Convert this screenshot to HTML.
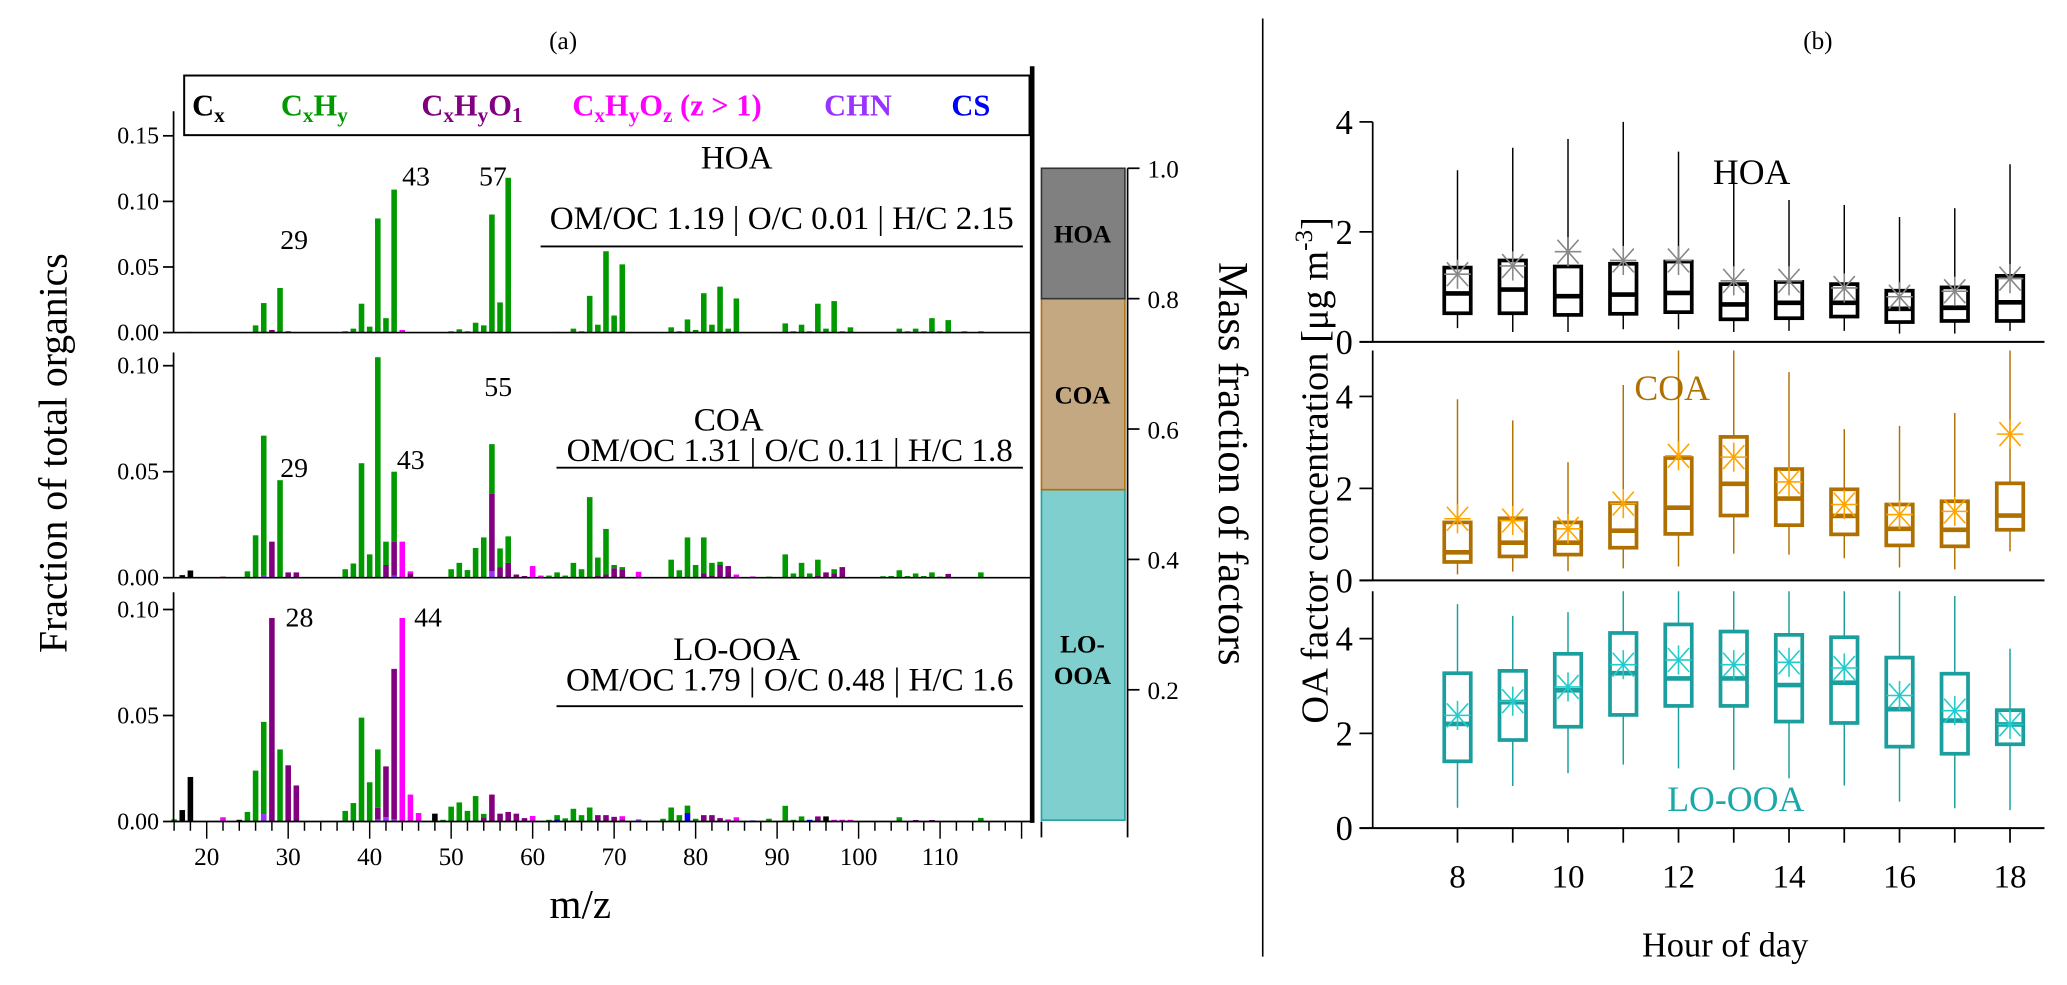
<!DOCTYPE html>
<html><head><meta charset="utf-8"><style>
html,body{margin:0;padding:0;background:#fff;}
svg{display:block;font-family:"Liberation Serif",serif;}
</style></head><body>
<svg id="fig" xmlns="http://www.w3.org/2000/svg" width="2067" height="985" viewBox="0 0 1560 743.4" preserveAspectRatio="none">
<rect x="0" y="0" width="1560" height="744" fill="#fff"/>
<text x="425" y="37" font-size="19" text-anchor="middle">(a)</text>
<text x="1372" y="37" font-size="19" text-anchor="middle">(b)</text>
<line x1="953" y1="14" x2="953" y2="722" stroke="#000" stroke-width="1.2"/>
<g font-size="23" font-weight="bold">
<rect x="139" y="57" width="638" height="45" fill="none" stroke="#000" stroke-width="1.5"/>
<text x="145" y="87" fill="#000">C<tspan font-size="16" dy="5">x</tspan></text>
<text x="212" y="87" fill="#009900">C<tspan font-size="16" dy="5">x</tspan><tspan dy="-5">H</tspan><tspan font-size="16" dy="5">y</tspan></text>
<text x="318" y="87" fill="#800080">C<tspan font-size="16" dy="5">x</tspan><tspan dy="-5">H</tspan><tspan font-size="16" dy="5">y</tspan><tspan dy="-5">O</tspan><tspan font-size="16" dy="5">1</tspan></text>
<text x="432" y="87" fill="#ff00ff">C<tspan font-size="16" dy="5">x</tspan><tspan dy="-5">H</tspan><tspan font-size="16" dy="5">y</tspan><tspan dy="-5">O</tspan><tspan font-size="16" dy="5">z</tspan><tspan dy="-5"> (z &gt; 1)</tspan></text>
<text x="622" y="87" fill="#9933ff">CHN</text>
<text x="718" y="87" fill="#0000ff">CS</text>
</g>
<text transform="translate(50,342) rotate(-90)" font-size="30" text-anchor="middle">Fraction of total organics</text>
<text x="438" y="693" font-size="31" text-anchor="middle">m/z</text>
<text transform="translate(920,350) rotate(90)" font-size="32" text-anchor="middle">Mass fraction of factors</text>
<text transform="translate(1002,355) rotate(-90)" font-size="29" text-anchor="middle">OA factor concentration [μg m<tspan font-size="19" dy="-12">-3</tspan><tspan dy="12">]</tspan></text>
<text x="1302" y="722" font-size="26" text-anchor="middle">Hour of day</text>
<g id="spec"></g>
<g id="frac"></g>
<g id="box"></g>
</svg>
<script>
// ---------- spectra data: [m/z, fraction] ----------
const hoaCx = [[18,0.0005]];
const hoaCxHy = [[26,0.0055],[27,0.0225],[29,0.034],[37,0.001],[38,0.003],[39,0.022],[40,0.0045],[41,0.087],[42,0.011],[43,0.109],[50,0.001],[51,0.0025],[52,0.001],[53,0.0075],[54,0.0055],[55,0.090],[56,0.023],[57,0.118],[63,0.0005],[65,0.003],[66,0.001],[67,0.028],[68,0.006],[69,0.062],[70,0.013],[71,0.052],[77,0.004],[78,0.001],[79,0.010],[80,0.002],[81,0.030],[82,0.006],[83,0.035],[84,0.003],[85,0.026],[91,0.007],[92,0.001],[93,0.006],[94,0.001],[95,0.022],[96,0.003],[97,0.024],[98,0.001],[99,0.004],[105,0.003],[106,0.001],[107,0.003],[108,0.001],[109,0.011],[110,0.001],[111,0.0095],[113,0.001],[115,0.001]];
const hoaO1 = [[28,0.002],[30,0.001]];
const hoaOz = [[44,0.002]];
const hoaCHN = [];
const hoaCS = [];

const coaCx = [[17,0.0012],[18,0.0034]];
const coaCxHy = [[25,0.003],[26,0.020],[27,0.066],[29,0.046],[37,0.004],[38,0.0067],[39,0.054],[40,0.011],[41,0.104],[42,0.011],[43,0.033],[50,0.004],[51,0.007],[52,0.0036],[53,0.014],[54,0.019],[55,0.0235],[56,0.0088],[57,0.0125],[62,0.001],[63,0.0025],[64,0.001],[65,0.007],[66,0.004],[67,0.038],[68,0.0085],[69,0.0215],[70,0.0015],[71,0.001],[77,0.0085],[78,0.0035],[79,0.019],[80,0.006],[81,0.017],[82,0.006],[83,0.0015],[89,0.0005],[91,0.011],[92,0.002],[93,0.007],[94,0.002],[95,0.0075],[97,0.002],[103,0.0007],[104,0.0008],[105,0.0035],[106,0.0008],[107,0.002],[108,0.0008],[109,0.0025],[110,0.0005],[115,0.0025]];
const coaO1 = [[22,0.0005],[28,0.017],[30,0.0025],[31,0.0025],[42,0.006],[43,0.016],[45,0.002],[55,0.0365],[56,0.005],[57,0.007],[58,0.0015],[59,0.0008],[68,0.001],[69,0.0015],[70,0.0045],[71,0.004],[81,0.002],[82,0.001],[83,0.006],[84,0.0055],[95,0.001],[96,0.0025],[97,0.002],[98,0.005],[111,0.0018]];
const coaOz = [[44,0.017],[45,0.001],[60,0.0055],[61,0.001],[73,0.0028],[85,0.0015],[87,0.0006]];
const coaCHN = [[27,0.001],[43,0.001],[55,0.003]];
const coaCS = [];

const loCx = [[17,0.0054],[18,0.021],[24,0.0008],[48,0.0037],[96,0.0024]];
const loCxHy = [[16,0.001],[25,0.0045],[26,0.024],[27,0.0435],[29,0.034],[37,0.005],[38,0.0087],[39,0.049],[40,0.0185],[41,0.0275],[49,0.0008],[50,0.007],[51,0.009],[52,0.005],[53,0.012],[54,0.0016],[62,0.0008],[63,0.002],[64,0.0015],[65,0.006],[66,0.003],[67,0.0066],[76,0.0013],[77,0.0066],[78,0.003],[79,0.0035],[80,0.0013],[89,0.0013],[91,0.0074],[92,0.0008],[93,0.0024],[105,0.002],[115,0.0017]];
const loO1 = [[28,0.096],[30,0.0265],[31,0.017],[41,0.0055],[42,0.024],[43,0.071],[54,0.002],[55,0.0127],[56,0.0037],[57,0.0045],[58,0.0037],[59,0.0016],[68,0.003],[69,0.003],[70,0.0022],[71,0.001],[81,0.003],[82,0.003],[83,0.0016],[95,0.0024],[107,0.0007],[109,0.0007]];
const loOz = [[22,0.002],[44,0.096],[45,0.0127],[46,0.004],[60,0.0026],[61,0.0003],[71,0.0015],[84,0.001],[85,0.002],[97,0.0008],[98,0.0008],[99,0.0008]];
const loCHN = [[27,0.0035],[41,0.001],[42,0.002],[43,0.001],[73,0.001]];
const loCS = [[63,0.001],[79,0.004],[87,0.0005],[94,0.0008]];

// ---------- factor mass fractions ----------
const fracNames = ["LO-OOA","COA","HOA"];
const fracValues = [0.507,0.293,0.200];

// ---------- diurnal box data ----------
const hours = [8,9,10,11,12,13,14,15,16,17,18];
const hoaLo = [0.25,0.18,0.18,0.23,0.23,0.18,0.2,0.2,0.15,0.15,0.2];
const hoaQ1 = [0.52,0.52,0.49,0.51,0.54,0.41,0.43,0.46,0.36,0.38,0.38];
const hoaMed = [0.88,0.95,0.83,0.86,0.89,0.68,0.71,0.71,0.6,0.62,0.72];
const hoaQ3 = [1.35,1.48,1.37,1.42,1.46,1.05,1.09,1.05,0.93,0.99,1.2];
const hoaHi = [3.12,3.53,3.69,4.0,3.46,2.9,2.58,2.49,2.27,2.43,3.23];
const hoaMean = [1.23,1.38,1.64,1.48,1.48,1.11,1.11,0.98,0.82,0.92,1.15];
const coaLo = [0.13,0.19,0.2,0.26,0.3,0.58,0.56,0.48,0.28,0.24,0.63];
const coaQ1 = [0.40,0.52,0.56,0.71,1.01,1.41,1.2,1.0,0.76,0.74,1.1];
const coaMed = [0.61,0.82,0.82,1.08,1.58,2.1,1.78,1.4,1.12,1.1,1.41];
const coaQ3 = [1.26,1.35,1.26,1.68,2.66,3.12,2.42,1.98,1.65,1.72,2.11];
const coaHi = [3.94,3.48,2.57,4.25,5,5,4.53,3.29,3.36,3.64,5];
const coaMean = [1.34,1.3,1.12,1.67,2.71,2.68,2.14,1.65,1.43,1.5,3.18];
const looaLo = [0.43,0.89,1.16,1.34,1.26,1.23,1.05,0.9,0.56,0.42,0.38];
const looaQ1 = [1.41,1.86,2.14,2.39,2.58,2.58,2.25,2.22,1.72,1.57,1.77];
const looaMed = [2.2,2.66,2.91,3.27,3.16,3.16,3.02,3.07,2.51,2.27,2.19];
const looaQ3 = [3.27,3.32,3.68,4.12,4.3,4.15,4.08,4.03,3.6,3.26,2.49];
const looaHi = [4.73,4.48,4.56,5,5,5,5,5,5,4.9,3.79];
const looaMean = [2.38,2.68,2.98,3.45,3.55,3.45,3.5,3.38,2.8,2.48,2.19];

const mzTicks = [20,30,40,50,60,70,80,90,100,110];
const fracTicks = [0.2,0.4,0.6,0.8,1.0];
const hourTicks = [8,10,12,14,16,18];
const concTicks = [0,2,4];

const NS = "http://www.w3.org/2000/svg";
function mk(tag, attrs, parent){
  const e = document.createElementNS(NS, tag);
  for (const k in attrs) e.setAttribute(k, attrs[k]);
  parent.appendChild(e);
  return e;
}
function txt(str, attrs, parent){ const t = mk("text", attrs, parent); t.textContent = str; return t; }

const spec = document.getElementById("spec");
const xL = 131, xR = 778;
const xMz = mz => 156 + (mz - 20) * 6.15;
const panels = [
  {name:"hoa", base:251, top:84, scale:990, ticks:[0,0.05,0.10,0.15], fams:[hoaCS,hoaCHN,hoaO1,hoaOz,hoaCxHy,hoaCx]},
  {name:"coa", base:436, top:266, scale:1600, ticks:[0,0.05,0.10], fams:[coaCS,coaCHN,coaO1,coaOz,coaCxHy,coaCx]},
  {name:"lo-ooa", base:620, top:447, scale:1600, ticks:[0,0.05,0.10], fams:[loCS,loCHN,loO1,loOz,loCxHy,loCx]}
];
const famColors = ["#0000ff","#9933ff","#800080","#ff00ff","#009900","#000000"];
const famNames = ["cs","chn","cxhyo1","cxhyoz","cxhy","cx"];

panels.forEach(p => {
  const g = mk("g", {}, spec);
  
  
  const yv = v => p.base - v * p.scale;
  const stack = {};
  p.fams.forEach((fam, fi) => {
    fam.forEach(d => {
      const mz = d[0], v = d[1];
      const s = stack[mz] || 0;
      const r = mk("rect", {x:(xMz(mz)-2.1).toFixed(2), y:yv(s+v).toFixed(2), width:4.2, height:(v*p.scale).toFixed(2), fill:famColors[fi]}, g);
      
      
      stack[mz] = s + v;
    });
  });
  const sp = mk("line", {x1:xL, y1:p.top, x2:xL, y2:p.base, stroke:"#000", "stroke-width":1.3}, g);
  
  
  const bl = mk("line", {x1:xL, y1:p.base, x2:xR, y2:p.base, stroke:"#000", "stroke-width":1.3}, g);
  
  
  p.ticks.forEach(t => {
    const y = yv(t);
    const tl = mk("line", {x1:xL-8, y1:y, x2:xL, y2:y, stroke:"#000", "stroke-width":1.3}, g);
    
    
    const lb = txt(t.toFixed(2), {x:xL-11, y:y+6, "font-size":18, "text-anchor":"end"}, g);
    
    
  });
});

// spectrum annotations (label, center x, baseline y)
const ann = [
  ["29",222,188],["43",314,140],["57",372,140],
  ["29",222,360],["43",310,354],["55",376,299],
  ["28",226,473],["44",323,473]
];
ann.forEach(a => {
  const t = txt(a[0], {x:a[1], y:a[2], "font-size":21, "text-anchor":"middle"}, spec);
  
  
});
const stats = [
  ["HOA","OM/OC 1.19 | O/C 0.01 | H/C 2.15",556,127,590,173,186,408],
  ["COA","OM/OC 1.31 | O/C 0.11 | H/C 1.8",550,325,596,348,353,420],
  ["LO-OOA","OM/OC 1.79 | O/C 0.48 | H/C 1.6",556,498,596,521,533,420]
];
stats.forEach(s => {
  const n = txt(s[0], {x:s[2], y:s[3], "font-size":25, "text-anchor":"middle"}, spec);
  
  
  const st = txt(s[1], {x:s[4], y:s[5], "font-size":25, "text-anchor":"middle"}, spec);
  
  
  const ul = mk("line", {x1:s[7], y1:s[6], x2:772, y2:s[6], stroke:"#000", "stroke-width":1.4}, spec);
  
  
});

for (let mz = 16; mz <= 120; mz += 2) {
  const major = mz % 10 === 0;
  const tk = mk("line", {x1:xMz(mz), y1:620, x2:xMz(mz), y2:major?633:627, stroke:"#000", "stroke-width":1.1}, spec);
  
  
}
mzTicks.forEach(m => {
  const t = txt(String(m), {x:xMz(m), y:653, "font-size":19, "text-anchor":"middle"}, spec);
  
  
});
const thick = mk("line", {x1:779, y1:50, x2:779, y2:621, stroke:"#000", "stroke-width":3.5}, spec);



// ---------- stacked mass fraction bar ----------
const frac = document.getElementById("frac");
const fy = v => 619 - v * 492;
const fFill = {"LO-OOA":"#7fcfcf","COA":"#c4a882","HOA":"#808080"};
const fStroke = {"LO-OOA":"#20a0a0","COA":"#b07000","HOA":"#333"};
let cum = 0;
fracNames.forEach((n, i) => {
  const v = fracValues[i];
  const r = mk("rect", {x:786, y:fy(cum+v), width:63, height:v*492, fill:fFill[n], stroke:fStroke[n], "stroke-width":1.2}, frac);
  
  
  const mid = fy(cum + v/2);
  if (n === "LO-OOA") {
    const t1 = txt("LO-", {x:817, y:mid-2, "font-size":19, "font-weight":"bold", "text-anchor":"middle"}, frac);
    
    
    const t2 = txt("OOA", {x:817, y:mid+22, "font-size":19, "font-weight":"bold", "text-anchor":"middle"}, frac);
    
    
  } else {
    const t = txt(n, {x:817, y:mid+7, "font-size":19, "font-weight":"bold", "text-anchor":"middle"}, frac);
    
    
  }
  cum += v;
});
const fax = mk("line", {x1:851, y1:fy(1), x2:851, y2:632, stroke:"#000", "stroke-width":1.3}, frac);


const fb1 = mk("line", {x1:786, y1:620, x2:786, y2:632, stroke:"#000", "stroke-width":1.3}, frac);


fracTicks.forEach(t => {
  const y = fy(t);
  const l = mk("line", {x1:851, y1:y, x2:860, y2:y, stroke:"#000", "stroke-width":1.3}, frac);
  
  
  const lb = txt(t.toFixed(1), {x:866, y:y+7, "font-size":19}, frac);
  
  
});

// ---------- diurnal boxplots ----------
const box = document.getElementById("box");
const bx0 = 1036, bx1 = 1543;
const xH = h => 1100 + (h - 8) * 41.7;
const bpanels = [
  {name:"hoa", y0:258, sc:41.5, top:4, lo:hoaLo, q1:hoaQ1, med:hoaMed, q3:hoaQ3, hi:hoaHi, mean:hoaMean, col:"#000", mcol:"#888", label:"HOA", lx:1322, ly:139},
  {name:"coa", y0:438, sc:34.7, top:5, lo:coaLo, q1:coaQ1, med:coaMed, q3:coaQ3, hi:coaHi, mean:coaMean, col:"#b07000", mcol:"#ffa500", label:"COA", lx:1262, ly:302},
  {name:"lo-ooa", y0:625, sc:35.75, top:5, lo:looaLo, q1:looaQ1, med:looaMed, q3:looaQ3, hi:looaHi, mean:looaMean, col:"#1a9e9e", mcol:"#22cccc", label:"LO-OOA", lx:1310, ly:612}
];
bpanels.forEach(p => {
  const g = mk("g", {}, box);
  
  
  const yv = v => p.y0 - v * p.sc;
  const sp = mk("line", {x1:bx0, y1:yv(p.top), x2:bx0, y2:p.y0, stroke:"#000", "stroke-width":1.3}, g);
  
  
  const bl = mk("line", {x1:bx0-10, y1:p.y0, x2:bx1, y2:p.y0, stroke:"#000", "stroke-width":1.5}, g);
  
  
  concTicks.forEach(t => {
    const y = yv(t);
    const l = mk("line", {x1:bx0-10, y1:y, x2:bx0, y2:y, stroke:"#000", "stroke-width":1.3}, g);
    
    
    const lb = txt(String(t), {x:bx0-15, y:y+9, "font-size":26, "text-anchor":"end"}, g);
    
    
  });
  hours.forEach((h, i) => {
    const x = xH(h);
    const w = mk("line", {x1:x, y1:yv(p.lo[i]), x2:x, y2:yv(p.hi[i]), stroke:p.col, "stroke-width":1.1}, g);
    
    
    const r = mk("rect", {x:x-10, y:yv(p.q3[i]), width:20, height:(p.q3[i]-p.q1[i])*p.sc, fill:"#fff", stroke:p.col, "stroke-width":2.8}, g);
    
    
    const m = mk("line", {x1:x-10, y1:yv(p.med[i]), x2:x+10, y2:yv(p.med[i]), stroke:p.col, "stroke-width":3.5}, g);
    
    
    const my = yv(p.mean[i]);
    const ag = mk("g", {stroke:p.mcol, "stroke-width":1.2}, g);
    
    
    mk("line", {x1:x-10, y1:my, x2:x+10, y2:my}, ag);
    mk("line", {x1:x, y1:my-11, x2:x, y2:my+11}, ag);
    mk("line", {x1:x-8, y1:my-9, x2:x+8, y2:my+9}, ag);
    mk("line", {x1:x-8, y1:my+9, x2:x+8, y2:my-9}, ag);
  });
  const lb = txt(p.label, {x:p.lx, y:p.ly, "font-size":27, "text-anchor":"middle", fill:p.name==="hoa"?"#000":(p.name==="coa"?"#b07000":"#1aa8a8")}, g);
  
  
});
hours.forEach(h => {
  const t = mk("line", {x1:xH(h), y1:625, x2:xH(h), y2:636, stroke:"#000", "stroke-width":1.3}, box);
  
  
});
hourTicks.forEach(h => {
  const t = txt(String(h), {x:xH(h), y:670, "font-size":25, "text-anchor":"middle"}, box);
  
  
});
</script>
</body></html>
